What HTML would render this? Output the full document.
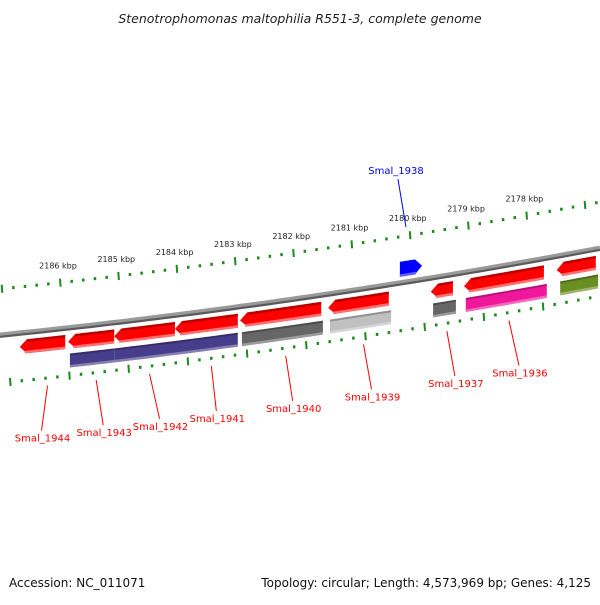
<!DOCTYPE html>
<html><head><meta charset="utf-8"><style>
body{margin:0;background:#fff;width:600px;height:600px;overflow:hidden;font-family:"Liberation Sans","DejaVu Sans",sans-serif}
svg text{font-family:"DejaVu Sans","Liberation Sans",sans-serif}
</style></head><body>
<svg id="chart" width="600" height="600" viewBox="0 0 600 600" xmlns="http://www.w3.org/2000/svg">
<text x="300" y="23" text-anchor="middle" font-size="12.5" font-style="italic" fill="#222">Stenotrophomonas maltophilia R551-3, complete genome</text>
<text x="9" y="587" font-size="12" fill="#111">Accession: NC_011071</text>
<text x="591" y="587" text-anchor="end" font-size="12" fill="#111">Topology: circular; Length: 4,573,969 bp; Genes: 4,125</text>
<g id="g"></g>
</svg>
<script>
const rulerKbp=[2187,2186,2185,2184,2183,2182,2181,2180,2179,2178,2177];
const rulerLabeled=[0,1,1,1,1,1,1,1,1,1,0];
const innerKbp=[2188,2187,2186,2185,2184,2183,2182,2181,2180,2179,2178,2177];
const geneNames=["Smal_1944","Smal_1943","Smal_1942","Smal_1941","Smal_1940","Smal_1939","Smal_1937","Smal_1936","Smal_1935"];
const geneStart=[2186.69,2185.86,2185.07,2184.03,2182.91,2181.40,2179.64,2179.07,2177.48];
const geneEnd=[2185.91,2185.07,2184.03,2182.95,2181.52,2180.36,2179.26,2177.70,2176.81];
const labelShown=[1,1,1,1,1,1,1,1,0];
const labelShift=[0,13,16,11,13,14,14,16,0];
const cdsStart=[2185.83,2185.06,2184.01,2182.88,2181.37,2179.60,2179.04,2177.42];
const cdsEnd=[2185.06,2184.01,2182.95,2181.49,2180.32,2179.21,2177.65,2176.77];
const cdsColor=["#483d8b","#483d8b","#483d8b","#666666","#c0c0c0","#666666","#f0189a","#6b8e23"];
const fwdName=["Smal_1938"];
const fwdStart=[2180.17];
const fwdEnd=[2179.79];

const g=document.getElementById('g');
const NS='http://www.w3.org/2000/svg';
const X=k=>60+(2186-k)*58.3;
const XI=k=>10+(2187-k)*59.2;
const Y=x=>335-0.1017*x-7.2e-5*x*x;
function el(t,a){const e=document.createElementNS(NS,t);for(const k in a)e.setAttribute(k,a[k]);g.appendChild(e);return e;}
function band(x1,x2,o1,o2,fill,name,tip){
  const pts=[];const n=8;const hl=7;
  let a=x1,b=x2;
  if(tip<0)a=x1+hl; if(tip>0)b=x2-hl;
  for(let i=0;i<=n;i++){const x=a+(b-a)*i/n;pts.push([x,Y(x)+o1]);}
  if(tip>0)pts.push([x2,Y(x2)+(o1+o2)/2]);
  for(let i=n;i>=0;i--){const x=a+(b-a)*i/n;pts.push([x,Y(x)+o2]);}
  if(tip<0)pts.push([x1,Y(x1)+(o1+o2)/2]);
  const p=el('polygon',{points:pts.map(p=>p[0].toFixed(1)+','+p[1].toFixed(1)).join(' '),fill:fill});
  
  
  return p;
}
function strip(x1,x2,o1,o2,fill){const p=el('polygon',{points:[[x1,Y(x1)+o1],[x2,Y(x2)+o1],[x2,Y(x2)+o2],[x1,Y(x1)+o2]].map(p=>p.join(',')).join(' '),fill:fill});

}
let d='';for(let x=0;x<=600;x+=10)d+=(x?'L':'M')+x+','+Y(x).toFixed(1);
const bb=el('path',{d:d,stroke:'#999',fill:'none','stroke-width':5});


const bb2=el('path',{d:d,stroke:'#5a5a5a',fill:'none','stroke-width':2.2,transform:'translate(0,1.8)'});


function ruler(fx,majors,off,labeled){
  for(let i=0;i<majors.length;i++){
    for(let j=0;j<5;j++){
      const x=fx(majors[i]-j*0.2); if(x<-2||x>602)continue;
      const y=Y(x)+off;
      const t=el('line',{x1:x,y1:y-(j?1.5:4),x2:x+(j?0:0.6),y2:y+(j?1.5:4),stroke:'#1a8a1a','stroke-width':j?2.5:2});
      
      
    }
    if(labeled&&labeled[i]){const x=fx(majors[i]);
      const tx=el('text',{x:x-2,y:Y(x)+off-14,'font-size':8,'text-anchor':'middle',fill:'#222'});
      tx.textContent=majors[i]+' kbp';
      
      }
  }
}
ruler(X,rulerKbp,-46,rulerLabeled);
ruler(XI,innerKbp,48,null);
for(let i=0;i<geneNames.length;i++){
  const x1=X(geneStart[i]),x2=X(geneEnd[i]);
  band(x1,x2,7,21,'#ff0000','gene-'+geneNames[i],-1);
  strip(x1+7,x2,7,9.5,'#b80000');
  strip(x1+5,x2,18.5,21,'#ff7070');
  if(labelShown[i]){
    const m=(x1+x2)/2,y=Y(m),s=labelShift[i];
    const ln=el('line',{x1:m+5,y1:y+55,x2:m+s-1,y2:y+100,stroke:'#ff0000','stroke-width':1});
    
    
    const tx=el('text',{x:m+s,y:y+111,'font-size':10,'text-anchor':'middle',fill:'#ff0000'});
    tx.textContent=geneNames[i];
    
    
  }
}
for(let i=0;i<cdsStart.length;i++){
  const x1=X(cdsStart[i]),x2=X(cdsEnd[i]);
  band(x1,x2,26,40,cdsColor[i],'cds-bar',0);
  strip(x1,x2,26,28,'rgba(0,0,0,0.25)');
  strip(x1,x2,37.5,40,'rgba(255,255,255,0.35)');
}
for(let i=0;i<fwdName.length;i++){
  const x1=X(fwdStart[i]),x2=X(fwdEnd[i]);
  band(x1,x2,-21,-6,'#0000ff','gene-'+fwdName[i],1);
  strip(x1,x2-6,-8.5,-6,'#6060ff');
  const m=(x1+x2)/2,y=Y(m);
  const ln=el('line',{x1:m-13,y1:y-102,x2:m-5,y2:y-54,stroke:'#0000ff','stroke-width':1});
  
  
  const tx=el('text',{x:m-15,y:y-107,'font-size':10,'text-anchor':'middle',fill:'#0000ff'});
  tx.textContent=fwdName[i];
  
  
}
</script>
</body></html>
